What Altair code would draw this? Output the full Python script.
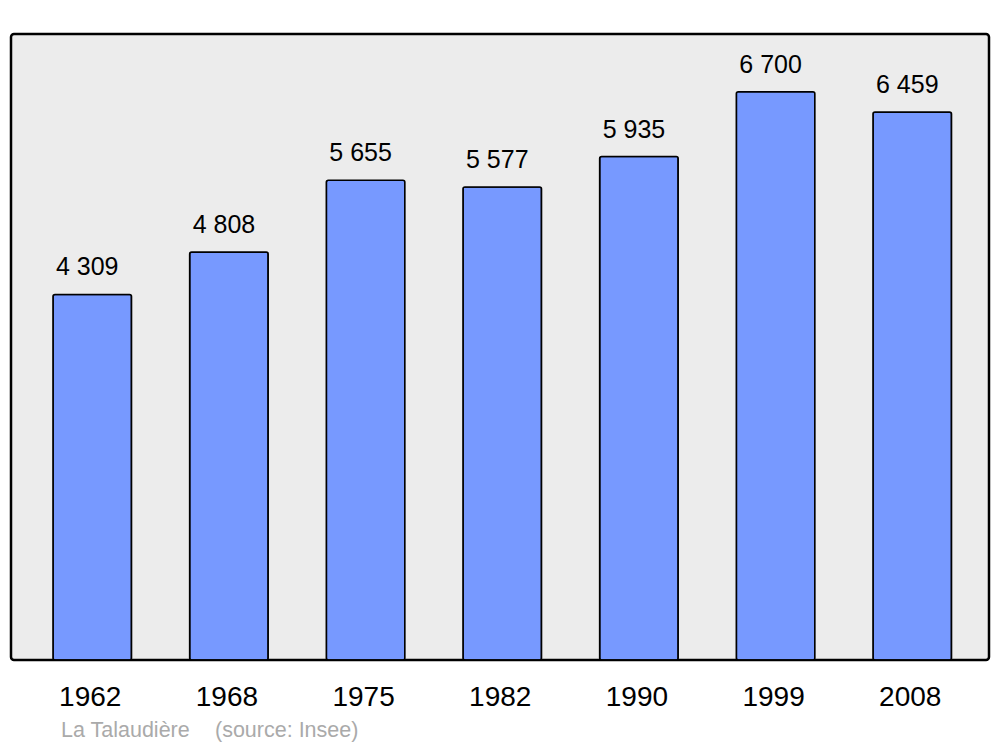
import altair as alt
import pandas as pd

years = ["1962", "1968", "1975", "1982", "1990", "1999", "2008"]
population = [4309, 4808, 5655, 5577, 5935, 6700, 6459]
labels = [f"{v:,}".replace(",", " ") for v in population]

df = pd.DataFrame({"year": years, "pop": population, "label": labels})

FONT = "Liberation Sans"

x = alt.X("year:N", sort=years, title=None,
          scale=alt.Scale(paddingInner=0.4256, paddingOuter=0.3073, range=[0, 982.5]),
          axis=alt.Axis(domain=False, ticks=False, labelAngle=0, labelFontSize=28,
                        labelFont=FONT, labelColor="#000000", labelPadding=45,
                        labelBaseline="alphabetic", labelOffset=-2))
y = alt.Y("pop:Q", title=None, scale=alt.Scale(domain=[0, 7380], nice=False),
          axis=None)

bars = alt.Chart(df).mark_bar(color="#7799ff", stroke="#000000", strokeWidth=1.6,
                              cornerRadius=2).encode(x=x, y=y)

vals = alt.Chart(df).mark_text(font=FONT, fontSize=25, color="#000000",
                               baseline="alphabetic", dy=-19, dx=-5).encode(
    x=alt.X("year:N", sort=years), y="pop:Q", text="label:N")

src1 = alt.Chart(pd.DataFrame({"t": ["La Talaudière"]})).mark_text(
    font=FONT, fontSize=21.5, color="#aaaaaa", align="left", baseline="alphabetic"
).encode(x=alt.value(50), y=alt.value(703), text="t:N")
src2 = alt.Chart(pd.DataFrame({"t": ["(source: Insee)"]})).mark_text(
    font=FONT, fontSize=21.5, color="#aaaaaa", align="left", baseline="alphabetic"
).encode(x=alt.value(204), y=alt.value(703), text="t:N")

chart = alt.layer(bars, vals, src1, src2).properties(
    width=978, height=626,
    autosize=alt.AutoSizeParams(type="none"),
    padding={"left": 3, "top": 26, "right": 3, "bottom": 86},
    background="#ffffff",
).configure_view(
    fill="#ececec", stroke="#000000", strokeWidth=2.5, cornerRadius=3
)

chart.save("out.html", embed_options={"renderer": "svg", "actions": False})
